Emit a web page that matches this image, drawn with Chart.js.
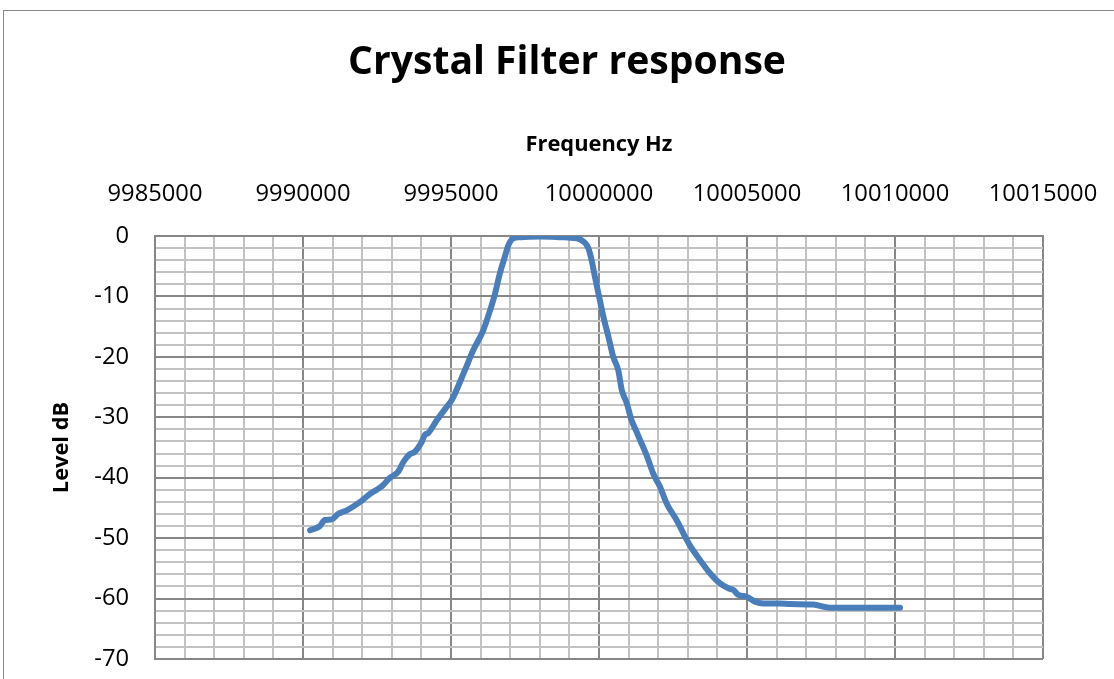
<!DOCTYPE html>
<html>
<head>
<meta charset="utf-8">
<script src="https://cdn.jsdelivr.net/npm/chart.js@4/dist/chart.umd.min.js"></script>
<style>
  html, body { margin: 0; padding: 0; background: #fff; }
  #wrap { position: relative; width: 1114px; height: 679px; }
</style>
</head>
<body>
<div id="wrap"><canvas id="c" width="1114" height="679"></canvas></div>
<script>
// ---- data ----
const chartTitle = 'Crystal Filter response';
const xAxisTitle = 'Frequency Hz';
const yAxisTitle = 'Level dB';

const xTickLabels = ['9985000', '9990000', '9995000', '10000000', '10005000', '10010000', '10015000'];
const yTickLabels = ['-70', '-60', '-50', '-40', '-30', '-20', '-10', '0'];

const freqHz = [
  9990240, 9990570, 9990740, 9990970, 9991180, 9991480, 9991930, 9992260, 9992550, 9992710,
  9992940, 9993220, 9993390, 9993610, 9993780, 9994010, 9994120, 9994230, 9994520, 9994850,
  9995020, 9995470, 9995750, 9996090, 9996320, 9996490, 9996650, 9996820, 9996940, 9997100,
  9997330, 9998010, 9998680, 9999250, 9999470, 9999640, 9999750, 9999860, 9999980, 10000150,
  10000320, 10000480, 10000650, 10000770, 10000940, 10001100, 10001270, 10001390, 10001610, 10001830,
  10002060, 10002290, 10002620, 10002850, 10003070, 10003410, 10003750, 10004090, 10004370, 10004540,
  10004710, 10004990, 10005270, 10005550, 10006110, 10006450, 10007240, 10007800, 10010170
];
const levelDb = [
  -48.7, -48.0, -47.0, -46.9, -46.0, -45.4, -44.0, -42.7, -41.8, -41.2,
  -40.0, -39.0, -37.4, -36.1, -35.7, -34.1, -32.9, -32.6, -30.5, -28.3,
  -27.2, -22.2, -18.9, -15.6, -12.3, -9.5, -6.2, -3.4, -1.5, -0.4,
  -0.2, -0.1, -0.2, -0.4, -0.9, -2.0, -4.0, -6.7, -9.5, -13.4,
  -16.7, -20.0, -22.2, -25.5, -27.7, -30.5, -32.4, -33.8, -36.3, -39.3,
  -41.5, -44.3, -47.0, -49.2, -51.2, -53.6, -55.8, -57.5, -58.3, -58.6,
  -59.4, -59.7, -60.5, -60.8, -60.8, -60.9, -61.0, -61.5, -61.5
];

const xMin = 9985000, xMax = 10015000, xMajor = 5000, xMinor = 1000;
const yMin = -70, yMax = 0, yMajor = 10, yMinor = 2;

// ---- styling ----
const FAMILY = '"Open Sans", "Noto Sans", sans-serif';
const mctx = document.createElement('canvas').getContext('2d');
function fitSize(text, weight, target) {
  mctx.font = weight + ' 100px ' + FAMILY;
  return 100 * target / mctx.measureText(text).width;
}
const titleSize = fitSize(chartTitle, 'bold', 438);
const axisTitleSize = fitSize(xAxisTitle, 'bold', 147);
const tickSize = fitSize('9985000', 'normal', 95);

const PLOT_L = 155, PLOT_T = 236, PLOT_R = 1043, PLOT_B = 659;
const TITLE_CX = 567;
const PAD_L = 2 * TITLE_CX - PLOT_R;   // centres the chart title at TITLE_CX
const titlePadTop = Math.max(0, 63 - 0.6 * titleSize);
const titleBlock = titlePadTop + 1.2 * titleSize;

const MAJOR_C = '#878787', MINOR_C = '#c2c2c2';
const isMajor = (v, step) => Math.abs(Math.round(v / step) * step - v) < 1e-6;
const noPad = (s) => { s.paddingLeft = 0; s.paddingRight = 0; s.paddingTop = 0; s.paddingBottom = 0; };

const framePlugin = {
  id: 'frame',
  beforeDraw(chart) {
    const ctx = chart.ctx;
    ctx.save();
    ctx.fillStyle = '#fff';
    ctx.fillRect(0, 0, chart.width, chart.height);
    ctx.strokeStyle = '#878787';
    ctx.lineWidth = 1;
    ctx.strokeRect(3.5, 10.5, 2000, 2000);
    ctx.restore();
  }
};

new Chart(document.getElementById('c'), {
  type: 'line',
  data: {
    datasets: [{
      label: 'Level',
      data: freqHz.map((f, i) => ({ x: f, y: levelDb[i] })),
      borderColor: '#4a7ebb',
      borderWidth: 6,
      pointRadius: 0,
      fill: false,
      cubicInterpolationMode: 'monotone',
      borderCapStyle: 'round',
      borderJoinStyle: 'round'
    }]
  },
  plugins: [framePlugin],
  options: {
    responsive: false,
    animation: false,
    layout: { padding: { left: PAD_L, top: 0, right: 1114 - PLOT_R, bottom: 679 - PLOT_B } },
    plugins: {
      legend: { display: false },
      tooltip: { enabled: false },
      title: {
        display: true,
        text: chartTitle,
        color: '#000',
        font: { family: FAMILY, weight: 'bold', size: titleSize },
        padding: { top: titlePadTop, bottom: 0 }
      }
    },
    scales: {
      x: {
        type: 'linear',
        position: 'top',
        min: xMin, max: xMax,
        afterFit(s) { s.height = PLOT_T - titleBlock; noPad(s); },
        ticks: {
          stepSize: xMinor,
          maxTicksLimit: 1000,
          autoSkip: false,
          maxRotation: 0,
          color: '#000',
          font: { family: FAMILY, size: tickSize },
          padding: (PLOT_T - 194) - 0.6 * tickSize,
          callback: (v) => isMajor(v - xMin, xMajor) ? xTickLabels[Math.round((v - xMin) / xMajor)] : ''
        },
        grid: {
          drawTicks: false,
          color: (c) => (c.tick && isMajor(c.tick.value - xMin, xMajor)) ? MAJOR_C : MINOR_C,
          lineWidth: 2
        },
        border: { color: MAJOR_C, width: 2 },
        title: {
          display: true,
          text: xAxisTitle,
          color: '#000',
          font: { family: FAMILY, weight: 'bold', size: axisTitleSize },
          padding: { top: 145 - titleBlock - 0.6 * axisTitleSize, bottom: 0 }
        }
      },
      y: {
        type: 'linear',
        min: yMin, max: yMax,
        afterFit(s) { s.width = PLOT_L - PAD_L; noPad(s); },
        ticks: {
          stepSize: yMinor,
          maxTicksLimit: 1000,
          autoSkip: false,
          color: '#000',
          font: { family: FAMILY, size: tickSize },
          padding: 26,
          callback: (v) => isMajor(v - yMin, yMajor) ? yTickLabels[Math.round((v - yMin) / yMajor)] : ''
        },
        grid: {
          drawTicks: false,
          color: (c) => (c.tick && isMajor(c.tick.value - yMin, yMajor)) ? MAJOR_C : MINOR_C,
          lineWidth: 2
        },
        border: { color: MAJOR_C, width: 2 },
        title: {
          display: true,
          text: yAxisTitle,
          color: '#000',
          font: { family: FAMILY, weight: 'bold', size: axisTitleSize },
          padding: { top: 62 - PAD_L - 0.6 * axisTitleSize, bottom: 0 }
        }
      }
    }
  }
});
</script>
</body>
</html>
